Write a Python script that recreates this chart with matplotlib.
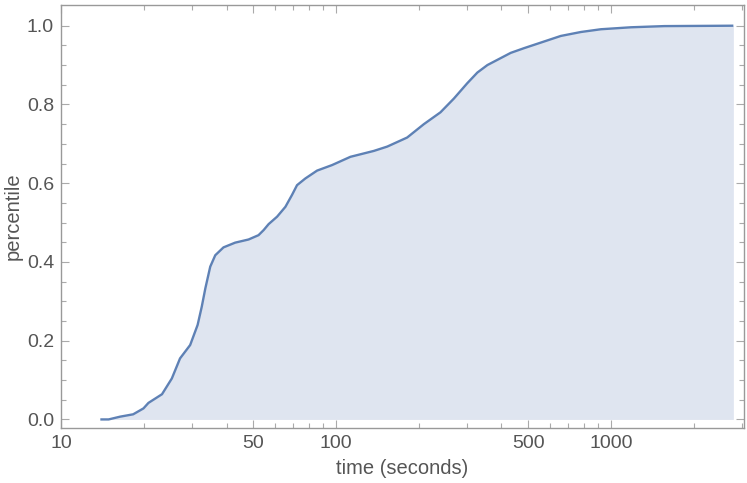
import matplotlib
matplotlib.use("Agg")
import matplotlib.pyplot as plt
from matplotlib.ticker import FixedLocator, FixedFormatter, NullFormatter

plt.rcParams['font.family'] = ['Liberation Sans', 'DejaVu Sans']

time_s = [13.9, 14.9, 16.4, 18.3, 19.95, 20.8, 23.3, 25.3, 27.1, 29.5, 31.4, 32.5,
          33.5, 34.9, 36.4, 39.0, 43.0, 48.1, 52.3, 54.6, 56.9, 61.1, 65.5, 69.2,
          72.2, 77.4, 85.4, 96.8, 112.9, 137.4, 153.7, 181.6, 208.9, 240, 268.6,
          300.5, 326.9, 355.5, 432.3, 483.5, 555.6, 657.6, 777.8, 919.5, 1183, 1565, 2790]
percentile = [0.0, 0.0, 0.007, 0.013, 0.028, 0.042, 0.064, 0.104, 0.155, 0.189, 0.24, 0.286,
              0.333, 0.388, 0.417, 0.437, 0.449, 0.457, 0.468, 0.481, 0.496, 0.515, 0.540, 0.570,
              0.595, 0.612, 0.632, 0.646, 0.667, 0.682, 0.693, 0.716, 0.750, 0.780, 0.815,
              0.854, 0.881, 0.900, 0.931, 0.943, 0.957, 0.974, 0.984, 0.991, 0.996, 0.999, 1.0]

x_major = [10, 50, 100, 500, 1000]
x_major_labels = ["10", "50", "100", "500", "1000"]
x_minor = [20, 30, 40, 60, 70, 80, 90, 200, 300, 400, 600, 700, 800, 900, 2000, 3000]
y_major = [0.0, 0.2, 0.4, 0.6, 0.8, 1.0]
y_major_labels = ["0.0", "0.2", "0.4", "0.6", "0.8", "1.0"]
y_minor = [0.05, 0.1, 0.15, 0.25, 0.3, 0.35, 0.45, 0.5, 0.55, 0.65, 0.7, 0.75, 0.85, 0.9, 0.95]

fig = plt.figure(figsize=(7.47, 4.83), dpi=100)
ax = fig.add_axes([61/747, 1 - 427.7/483, (744-61)/747, (427.7-5)/483])

line_color = '#5E81B5'
ax.fill_between(time_s, 0, percentile, color='#DFE5F0', linewidth=0)
ax.plot(time_s, percentile, color=line_color, linewidth=1.7,
        solid_joinstyle='round', solid_capstyle='butt')

ax.set_xscale('log')
ax.set_xlim(10, 3050)
ax.set_ylim(-0.021, 1.0526)

ax.xaxis.set_major_locator(FixedLocator(x_major))
ax.xaxis.set_major_formatter(FixedFormatter(x_major_labels))
ax.xaxis.set_minor_locator(FixedLocator(x_minor))
ax.xaxis.set_minor_formatter(NullFormatter())
ax.yaxis.set_major_locator(FixedLocator(y_major))
ax.yaxis.set_major_formatter(FixedFormatter(y_major_labels))
ax.yaxis.set_minor_locator(FixedLocator(y_minor))

frame_color = '#999999'
for s in ax.spines.values():
    s.set_color(frame_color)
    s.set_linewidth(1.0)

ax.tick_params(which='both', direction='in', top=True, right=True, color='#aaaaaa',
               labelcolor='#555555', labelsize=14, width=0.8)
ax.tick_params(which='major', length=6, pad=5)
ax.tick_params(which='minor', length=3.5)

ax.set_xlabel('time (seconds)', fontsize=14.5, color='#555555', labelpad=5)
ax.set_ylabel('percentile', fontsize=14.5, color='#555555', labelpad=3)

fig.savefig('out.png', dpi=100)
